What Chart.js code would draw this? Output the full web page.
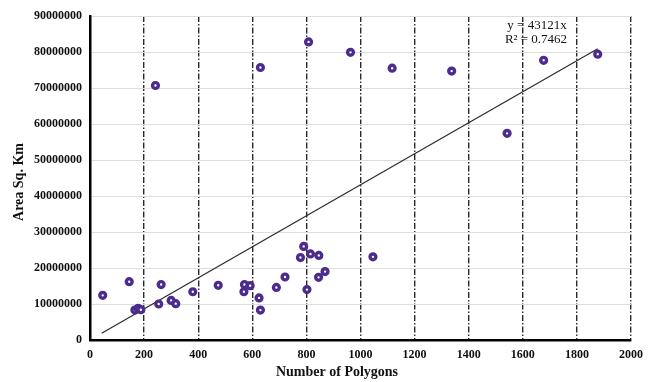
<!DOCTYPE html>
<html>
<head>
<meta charset="utf-8">
<script src="https://cdn.jsdelivr.net/npm/chart.js@4/dist/chart.umd.min.js"></script>
<style>
	body { margin: 0; background: #fff; }
	#wrap { width: 654px; height: 382px; }
</style>
</head>
<body>
<div id="wrap"><canvas id="chart" width="654" height="382"></canvas></div>
<script>
// values
let polygons = [47, 145, 166, 178, 188, 254, 263, 300, 317, 380, 474, 571, 569, 592, 625, 630, 689, 721, 778, 790, 815, 846, 845, 869, 802, 1046, 242, 630, 808, 963, 1117, 1337, 1542, 1677, 1877];
let areas = [12400000, 16200000, 8300000, 8800000, 8400000, 10000000, 15400000, 11000000, 10100000, 13400000, 15200000, 15400000, 13400000, 15100000, 11700000, 8300000, 14600000, 17500000, 22900000, 26000000, 23900000, 23500000, 17400000, 19000000, 14000000, 23100000, 70700000, 75700000, 82800000, 79900000, 75500000, 74700000, 57400000, 77700000, 79400000];
let trendX = [43, 1877];
let trendY = [1850000, 80900000];
let equation = ["y = 43121x", "R\u00b2 = 0.7462"];

let points = [];
for(let i = 0; i < polygons.length; i++){
	points.push({x: polygons[i], y: areas[i]});
}
let trend = [];
for(let i = 0; i < trendX.length; i++){
	trend.push({x: trendX[i], y: trendY[i]});
}

const serif = "'Liberation Serif', 'Times New Roman', serif";

// axis titles and trend equation
const textPlugin = {
	id: 'texts',
	afterDraw(chart) {
		let ctx = chart.ctx;
		let a = chart.chartArea;
		ctx.save();
		ctx.fillStyle = '#111111';
		ctx.textBaseline = 'middle';
		ctx.textAlign = 'center';
		ctx.font = "bold 14px " + serif;
		ctx.fillText("Number of Polygons", a.left + 247, 372);
		ctx.save();
		ctx.translate(19, (a.top + a.bottom) / 2 + 4);
		ctx.rotate(-Math.PI / 2);
		ctx.fillText("Area Sq. Km", 0, 0);
		ctx.restore();
		ctx.font = "13px " + serif;
		ctx.fillText(equation[0], a.left + 447, a.top + 10);
		ctx.fillText(equation[1], a.left + 446, a.top + 24);
		ctx.restore();
	}
};

let ctx = document.getElementById('chart').getContext('2d');
let chart = new Chart(ctx, {
	type: 'scatter',
	data: {
		datasets: [{
			label: 'Area',
			data: points,
			backgroundColor: '#ffffff',
			borderColor: '#4b2c8e',
			borderWidth: 3.4,
			pointRadius: 2.9,
			pointHoverRadius: 2.9
		}, {
			label: 'Trend',
			type: 'line',
			data: trend,
			borderColor: '#2b2b2b',
			borderWidth: 1.2,
			pointRadius: 0,
			fill: false
		}]
	},
	options: {
		responsive: false,
		animation: false,
		layout: { padding: { top: 16, right: 23, left: 0, bottom: 0 } },
		plugins: {
			legend: { display: false },
			tooltip: { enabled: false }
		},
		scales: {
			x: {
				type: 'linear',
				min: 0,
				max: 2000,
				afterFit: (s) => { s.height = 42; },
				ticks: {
					stepSize: 200,
					padding: 8,
					color: '#111111',
					font: { family: serif, size: 12, weight: 'bold' },
					callback: (v) => v.toString()
				},
				grid: {
					drawTicks: false,
					lineWidth: 1.4,
					color: (c) => c.index === 0 ? 'rgba(0,0,0,0)' : '#2a2a2a'
				},
				border: { display: true, color: '#000000', width: 2.5, dash: [6, 2, 1.5, 2] }
			},
			y: {
				type: 'linear',
				min: 0,
				max: 90000000,
				afterFit: (s) => { s.width = 90; },
				ticks: {
					stepSize: 10000000,
					padding: 8,
					color: '#111111',
					font: { family: serif, size: 12, weight: 'bold' },
					callback: (v) => v.toString()
				},
				grid: {
					drawTicks: false,
					lineWidth: 1,
					color: '#dddddd'
				},
				border: { display: true, color: '#000000', width: 2.5 }
			}
		}
	},
	plugins: [textPlugin]
});
</script>
</body>
</html>
